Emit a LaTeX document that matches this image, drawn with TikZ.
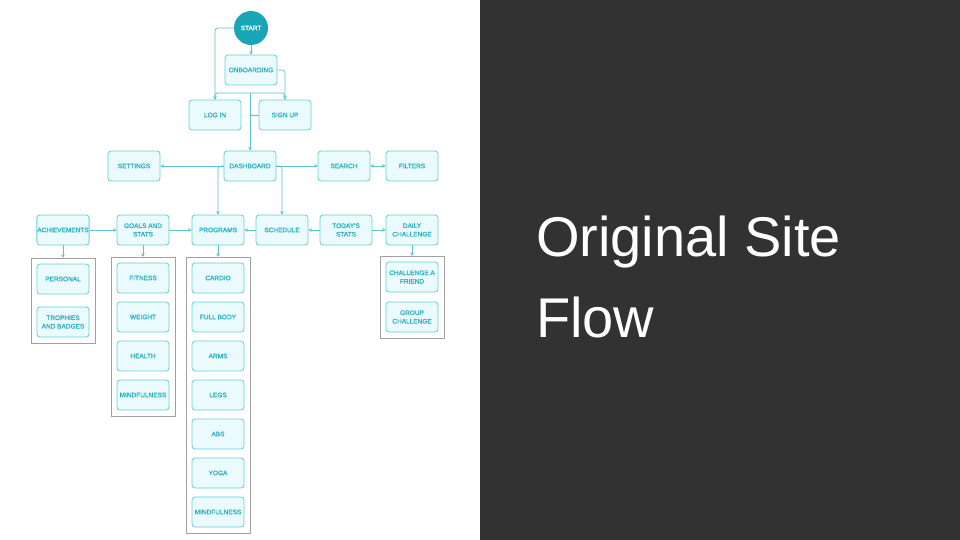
\documentclass[tikz,border=0pt]{standalone}
\usepackage{fontspec}
\setmainfont{Liberation Sans}
\newfontfamily\boxfamily{Liberation Sans}[FakeBold=1.3]
\usepackage{xcolor}
\usepackage{tikz}
\usetikzlibrary{shapes.geometric, arrows}
\usetikzlibrary{arrows.meta, fit}
\definecolor{boxfill}{RGB}{235,251,253}
\definecolor{boxborder}{RGB}{100,207,216}
\definecolor{boxtext}{RGB}{46,178,193}
\definecolor{linecol}{RGB}{90,195,205}
\definecolor{startfill}{RGB}{24,166,182}
\definecolor{groupborder}{RGB}{160,160,160}
\definecolor{panel}{RGB}{50,50,50}
\newcommand{\boxfont}{\boxfamily\fontsize{6.5}{8.5}\selectfont}
\tikzstyle{screen} = [rectangle, rounded corners=3pt, minimum width=52pt, minimum height=30pt, inner xsep=0.5pt, inner ysep=1pt, align=center, draw=boxborder, fill=boxfill, text=boxtext, font=\boxfont, line width=0.8pt]
\tikzstyle{startnode} = [circle, minimum size=34pt, inner sep=0pt, fill=startfill, text=white, font=\boxfont]
\tikzstyle{group} = [draw=groupborder, line width=0.6pt, inner sep=5.5pt]
\tikzstyle{arrow} = [draw=linecol, line width=0.7pt, -{Stealth[length=3.5pt,width=3.5pt]}, rounded corners=3pt]
\tikzstyle{link} = [draw=linecol, line width=0.7pt, rounded corners=3pt]
\begin{document}
\begin{tikzpicture}[x=1pt,y=-1pt]
\useasboundingbox (0,0) rectangle (960,540);
\fill[white] (0,0) rectangle (480,540);
\fill[panel] (480,0) rectangle (960,540);

% title
\node[anchor=base west, inner sep=0pt, text=white, font=\fontsize{56}{81}\selectfont] (title) at (536,256) {Original Site};
\node[anchor=base west, inner sep=0pt, text=white, font=\fontsize{56}{81}\selectfont] (titleflow) at (536,337) {Flow};

% top
\node[startnode] (start) at (251,28) {START};
\node[screen] (onboard) at (251,70) {ONBOARDING};
\node[screen] (login) at (215,115) {LOG IN};
\node[screen] (signup) at (285,115) {SIGN UP};

% dashboard row
\node[screen] (dash) at (250,166) {DASHBOARD};
\node[screen] (settings) at (134,166) {SETTINGS};
\node[screen] (search) at (344,166) {SEARCH};
\node[screen] (filters) at (412,166) {FILTERS};

% third row
\node[screen] (achieve) at (63,230) {ACHIEVEMENTS};
\node[screen] (goals) at (143,230) {GOALS AND\\STATS};
\node[screen] (programs) at (218,230) {PROGRAMS};
\node[screen] (schedule) at (282,230) {SCHEDULE};
\node[screen] (today) at (346,230) {TODAY'S\\STATS};
\node[screen] (daily) at (412,230) {DAILY\\CHALLENGE};

% achievements
\node[screen] (personal) at (63,279) {PERSONAL};
\node[screen] (trophies) at (63,322) {TROPHIES\\AND BADGES};
\node[group, fit=(personal)(trophies)] (achievebox) {};

% goals and stats
\node[screen] (fitness) at (143,278) {FITNESS};
\node[screen] (weight) at (143,317) {WEIGHT};
\node[screen] (health) at (143,356) {HEALTH};
\node[screen] (mindgoal) at (143,395) {MINDFULNESS};
\node[group, fit=(fitness)(mindgoal)] (goalsbox) {};

% programs
\node[screen] (cardio) at (218,278) {CARDIO};
\node[screen] (fullbody) at (218,317) {FULL BODY};
\node[screen] (arms) at (218,356) {ARMS};
\node[screen] (legs) at (218,395) {LEGS};
\node[screen] (abs) at (218,434) {ABS};
\node[screen] (yoga) at (218,473) {YOGA};
\node[screen] (mindprog) at (218,512) {MINDFULNESS};
\node[group, fit=(cardio)(mindprog)] (progbox) {};

% daily challenge
\node[screen] (friend) at (412,277) {CHALLENGE A\\FRIEND};
\node[screen] (groupch) at (412,317) {GROUP\\CHALLENGE};
\node[group, fit=(friend)(groupch)] (dailybox) {};

% connectors
\coordinate (join) at (250,93);
\coordinate (signjoin) at (250,115);
\draw[arrow] (start) -- (onboard);
\draw[arrow] (start.west) -| (login.north);
\draw[arrow] (onboard.east) -| (signup.north);
\draw[link] (login.north) |- (join);
\draw[link] (signup.north) |- (join);
\draw[link] (signup.west) -- (signjoin);
\draw[arrow] (join) -- (dash.north);

\draw[arrow] (dash.west) -- (settings.east);
\draw[arrow] (dash.east) -- (search.west);
\draw[arrow, {Stealth[length=3.5pt,width=3.5pt]}-{Stealth[length=3.5pt,width=3.5pt]}] (search) -- (filters);
\draw[arrow] (dash.west) -| (programs.north);
\draw[arrow] (dash.east) -| (schedule.north);

\draw[arrow] (achieve) -- (goals);
\draw[arrow] (goals) -- (programs);
\draw[arrow] (schedule) -- (programs);
\draw[arrow] (today) -- (schedule);
\draw[arrow] (today) -- (daily);

\draw[arrow] (achieve.south) -- (achievebox.north);
\draw[arrow] (goals.south) -- (goalsbox.north);
\draw[arrow] (programs.south) -- (progbox.north);
\draw[arrow] (daily.south) -- (dailybox.north);
\end{tikzpicture}
\end{document}
